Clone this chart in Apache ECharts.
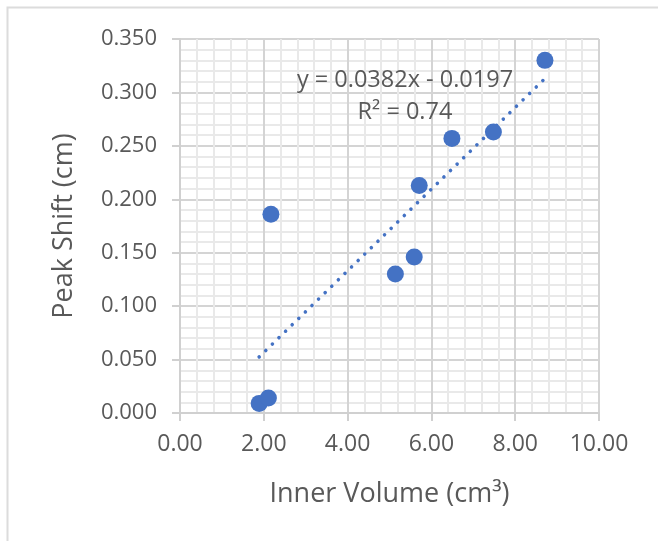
<!DOCTYPE html>
<html>
<head>
<meta charset="utf-8">
<script src="https://cdn.jsdelivr.net/npm/echarts@6/dist/echarts.min.js"></script>
<style>
  html, body { margin: 0; padding: 0; background: #fff; }
  #chart { width: 658px; height: 541px; }
</style>
</head>
<body>
<div id="chart"></div>
<script>
// Data
var innerVolume = [1.89, 2.11, 2.17, 5.14, 5.59, 5.71, 6.49, 7.48, 8.71];
var peakShift   = [0.009, 0.014, 0.186, 0.130, 0.146, 0.213, 0.257, 0.263, 0.330];
var trendSlope = 0.0382;
var trendIntercept = -0.0197;
var trendLabel = ['y = 0.0382x - 0.0197', 'R\u00b2 = 0.74'];
var xTitle = 'Inner Volume (cm\u00b3)';
var yTitle = 'Peak Shift (cm)';

var points = innerVolume.map(function (x, i) { return [x, peakShift[i]]; });
var xMin = Math.min.apply(null, innerVolume);
var xMax = Math.max.apply(null, innerVolume);
var trend = [
  [xMin, trendSlope * xMin + trendIntercept],
  [xMax, trendSlope * xMax + trendIntercept]
];

var FONT = '"Open Sans", sans-serif';
var TXT = '#595959';
var chart = echarts.init(document.getElementById('chart'), null, { renderer: 'canvas' });
chart.setOption({
  backgroundColor: '#ffffff',
  animation: false,
  grid: { left: 180, right: 59, top: 39, bottom: 128 },
  xAxis: {
    type: 'value', min: 0, max: 10, interval: 2,
    name: xTitle, nameLocation: 'middle', nameGap: 68,
    nameTextStyle: { fontFamily: FONT, fontSize: 27, color: TXT },
    axisLine: { show: true, lineStyle: { color: '#d0d0d0', width: 2 } },
    axisTick: { show: true, length: 8, lineStyle: { color: '#d0d0d0', width: 2 } },
    axisLabel: { fontFamily: FONT, fontSize: 23, color: TXT, margin: 20,
      formatter: function (v) { return v.toFixed(2); } },
    splitLine: { show: true, lineStyle: { color: '#d4d4d4', width: 2 } },
    minorTick: { show: false, splitNumber: 5 },
    minorSplitLine: { show: true, lineStyle: { color: '#e9e9e9', width: 2 } }
  },
  yAxis: {
    type: 'value', min: 0, max: 0.35, interval: 0.05,
    name: yTitle, nameLocation: 'middle', nameGap: 102, nameRotate: 90,
    nameTextStyle: { fontFamily: FONT, fontSize: 27, color: TXT },
    axisLine: { show: true, lineStyle: { color: '#d0d0d0', width: 2 } },
    axisTick: { show: true, length: 8, lineStyle: { color: '#d0d0d0', width: 2 } },
    axisLabel: { fontFamily: FONT, fontSize: 22, color: TXT, margin: 23,
      formatter: function (v) { return v.toFixed(3); } },
    splitLine: { show: true, lineStyle: { color: '#d4d4d4', width: 2 } },
    minorTick: { show: false, splitNumber: 5 },
    minorSplitLine: { show: true, lineStyle: { color: '#e9e9e9', width: 2 } }
  },
  graphic: [
    { type: 'rect', shape: { x: 7.5, y: 7.5, width: 700, height: 600 },
      style: { fill: 'none', stroke: '#dcdcdc', lineWidth: 2 }, silent: true, z: 100 },
    { type: 'text', x: 405, y: 80, z: 100,
      style: { text: trendLabel[0], font: '23.5px ' + FONT, fill: TXT, align: 'center', verticalAlign: 'middle' } },
    { type: 'text', x: 405, y: 112, z: 100,
      style: { text: trendLabel[1], font: '23.5px ' + FONT, fill: TXT, align: 'center', verticalAlign: 'middle' } }
  ],
  series: [
    {
      type: 'line', data: trend, showSymbol: false, symbol: 'none', z: 3,
      lineStyle: { color: '#4472c4', width: 3.6, type: [0.01, 9.2], cap: 'round' }
    },
    {
      type: 'scatter', data: points, symbol: 'circle', symbolSize: 17, z: 4,
      itemStyle: { color: '#4472c4', opacity: 1 }
    }
  ]
});
</script>
</body>
</html>
